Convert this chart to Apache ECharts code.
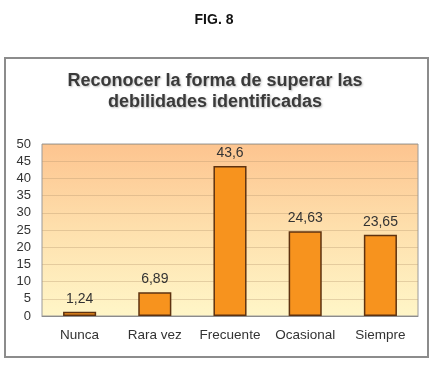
<!DOCTYPE html>
<html>
<head>
<meta charset="utf-8">
<script src="https://cdn.jsdelivr.net/npm/echarts@6/dist/echarts.min.js"></script>
<style>
  html, body { margin: 0; padding: 0; background: #fff; }
  #chart { width: 440px; height: 376px; }
</style>
</head>
<body>
<div id="chart"></div>
<script>
const categories = ['Nunca', 'Rara vez', 'Frecuente', 'Ocasional', 'Siempre']
const values = [1.24, 6.89, 43.6, 24.63, 23.65]
const valueLabels = ['1,24', '6,89', '43,6', '24,63', '23,65']

const chart = echarts.init(document.getElementById('chart'))

chart.setOption({
  backgroundColor: '#fff',
  animation: false,
  textStyle: { fontFamily: 'Liberation Sans, Arial, sans-serif' },
  graphic: [
    {
      type: 'rect',
      shape: { x: 5, y: 58, width: 423, height: 299 },
      style: { fill: 'none', stroke: '#8c8c8c', lineWidth: 2 },
      z: -1
    },
    {
      type: 'text',
      x: 214, y: 20,
      style: {
        text: 'FIG. 8',
        font: 'bold 14px Liberation Sans, Arial, sans-serif',
        fill: '#111',
        align: 'center',
        verticalAlign: 'middle'
      }
    },
    {
      type: 'text',
      x: 215, y: 92,
      style: {
        text: 'Reconocer la forma de superar las\ndebilidades identificadas',
        font: 'bold 18px Liberation Sans, Arial, sans-serif',
        fill: '#3a3a3a',
        align: 'center',
        verticalAlign: 'middle',
        lineHeight: 21,
        textShadowColor: 'rgba(0,0,0,0.25)',
        textShadowBlur: 2,
        textShadowOffsetX: 1,
        textShadowOffsetY: 1
      }
    }
  ],
  grid: {
    left: 42, right: 22, top: 144, bottom: 60,
    show: true,
    borderColor: '#9a9a9a',
    borderWidth: 1,
    backgroundColor: new echarts.graphic.LinearGradient(0, 0, 0, 1, [
      { offset: 0, color: '#fdc48f' },
      { offset: 0.5, color: '#fee0ad' },
      { offset: 1, color: '#fff6c8' }
    ])
  },
  xAxis: {
    type: 'category',
    data: categories,
    axisLine: { lineStyle: { color: '#8c8c8c' } },
    axisTick: { show: false },
    axisLabel: { color: '#333', fontSize: 13.5, margin: 12, interval: 0, hideOverlap: false }
  },
  yAxis: {
    type: 'value',
    min: 0, max: 50, interval: 5,
    axisLine: { show: false },
    axisTick: { show: false },
    axisLabel: { color: '#333', fontSize: 13, margin: 11 },
    splitLine: { lineStyle: { color: 'rgba(180,150,110,0.35)' } }
  },
  series: [{
    type: 'bar',
    data: values,
    barWidth: '44%',
    itemStyle: { color: '#f7931e', borderColor: '#5e3210', borderWidth: 1.5 },
    label: {
      show: true,
      position: 'top',
      distance: 6,
      color: '#333',
      fontSize: 14,
      formatter: p => valueLabels[p.dataIndex]
    }
  }]
})
</script>
</body>
</html>
